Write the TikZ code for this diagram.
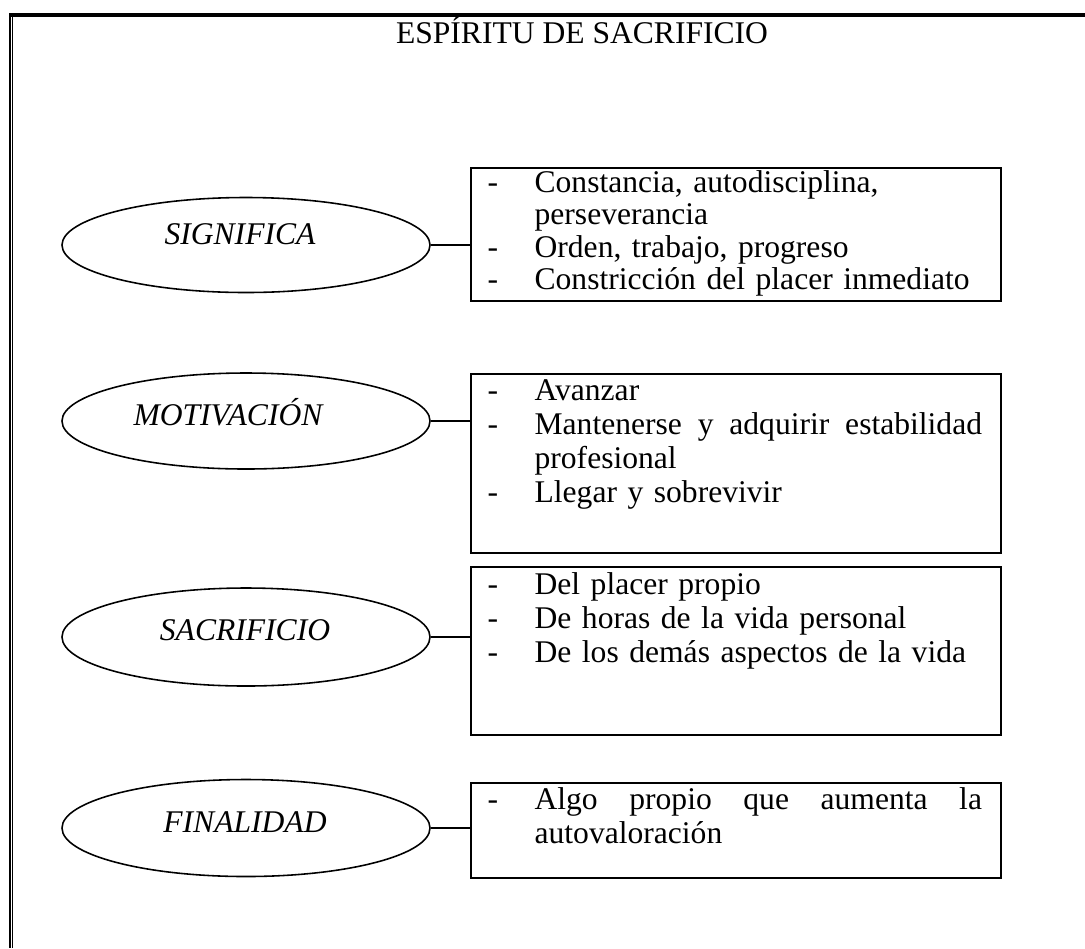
\documentclass[tikz,border=0pt]{standalone}
\usepackage{fontspec}
\setmainfont{Liberation Serif}
\usetikzlibrary{shapes.geometric,calc}
\def\pxu{0.38pt}
% dash column and justified-line helpers
\newcommand\dashitem{\makebox[17.9pt][l]{-}}
\newcommand\contline{\hspace*{17.9pt}}
\newcommand\fullline[1]{\makebox[170pt][s]{#1}}
\begin{document}
\begin{tikzpicture}[x=0.38pt,y=-0.38pt,
  every node/.style={font=\fontsize{12pt}{13pt}\selectfont},
  itembox/.style={draw, line width=0.6pt, anchor=north west, inner sep=0pt,
    minimum width=530*\pxu},
  oval/.style={draw, ellipse, line width=0.6pt, inner sep=0pt,
    minimum width=368*\pxu},
  ovaltext/.style={font=\fontsize{12pt}{13pt}\selectfont\itshape, inner sep=0pt},
  items/.style={anchor=base west, align=left, inner sep=0pt, text width=190pt},
  link/.style={line width=0.6pt}]
\useasboundingbox (0,0) rectangle (1085,948);

% page frame: heavy rule on top, double rule on the left
\draw[line width=1.33pt] (9,15) -- (1085,15);
\draw[line width=0.76pt] (10,13.5) -- (10,948);
\draw[line width=0.38pt] (12.8,17) -- (12.8,948);

\node (title) at (582,30) {ESPÍRITU DE SACRIFICIO};

% boxes
\node[itembox, minimum height=133*\pxu] (b1) at (470,167) {};
\node[itembox, minimum height=179*\pxu] (b2) at (470,373) {};
\node[itembox, minimum height=168*\pxu] (b3) at (470,566) {};
\node[itembox, minimum height=95*\pxu]  (b4) at (470,782) {};

% ovals
\node[oval, minimum height=95*\pxu] (e1) at (246,245) {};
\node[oval, minimum height=96*\pxu] (e2) at (246,421) {};
\node[oval, minimum height=98*\pxu] (e3) at (246,637) {};
\node[oval, minimum height=97*\pxu] (e4) at (246,828) {};

\node[ovaltext] (l1) at ($(e1.center)+(-6,-11)$) {SIGNIFICA};
\node[ovaltext] (l2) at ($(e2.center)+(-18,-9)$) {MOTIVACIÓN};
\node[ovaltext] (l3) at ($(e3.center)+(-1,-7)$) {SACRIFICIO};
\node[ovaltext] (l4) at ($(e4.center)+(-1,-6)$) {FINALIDAD};

% connectors
\draw[link] (e1.east) -- (e1.east -| b1.west);
\draw[link] (e2.east) -- (e2.east -| b2.west);
\draw[link] (e3.east) -- (e3.east -| b3.west);
\draw[link] (e4.east) -- (e4.east -| b4.west);

% box contents
\node[items, font=\fontsize{12pt}{12.4pt}\selectfont] (t1)
  at ($(b1.north west)+(17,25)$) {%
  \dashitem Constancia, autodisciplina,\\
  \contline perseverancia\\
  \dashitem Orden, trabajo, progreso\\
  \dashitem Constricción del placer inmediato};
\node[items] (t2) at ($(b2.north west)+(17,27)$) {%
  \dashitem Avanzar\\
  \dashitem\fullline{Mantenerse\hfill y\hfill adquirir\hfill estabilidad}\\
  \contline profesional\\
  \dashitem Llegar y sobrevivir};
\node[items] (t3) at ($(b3.north west)+(17,28)$) {%
  \dashitem Del placer propio\\
  \dashitem De horas de la vida personal\\
  \dashitem De los demás aspectos de la vida};
\node[items] (t4) at ($(b4.north west)+(17,27)$) {%
  \dashitem\fullline{Algo\hfill propio\hfill que\hfill aumenta\hfill la}\\
  \contline autovaloración};
\end{tikzpicture}
\end{document}
